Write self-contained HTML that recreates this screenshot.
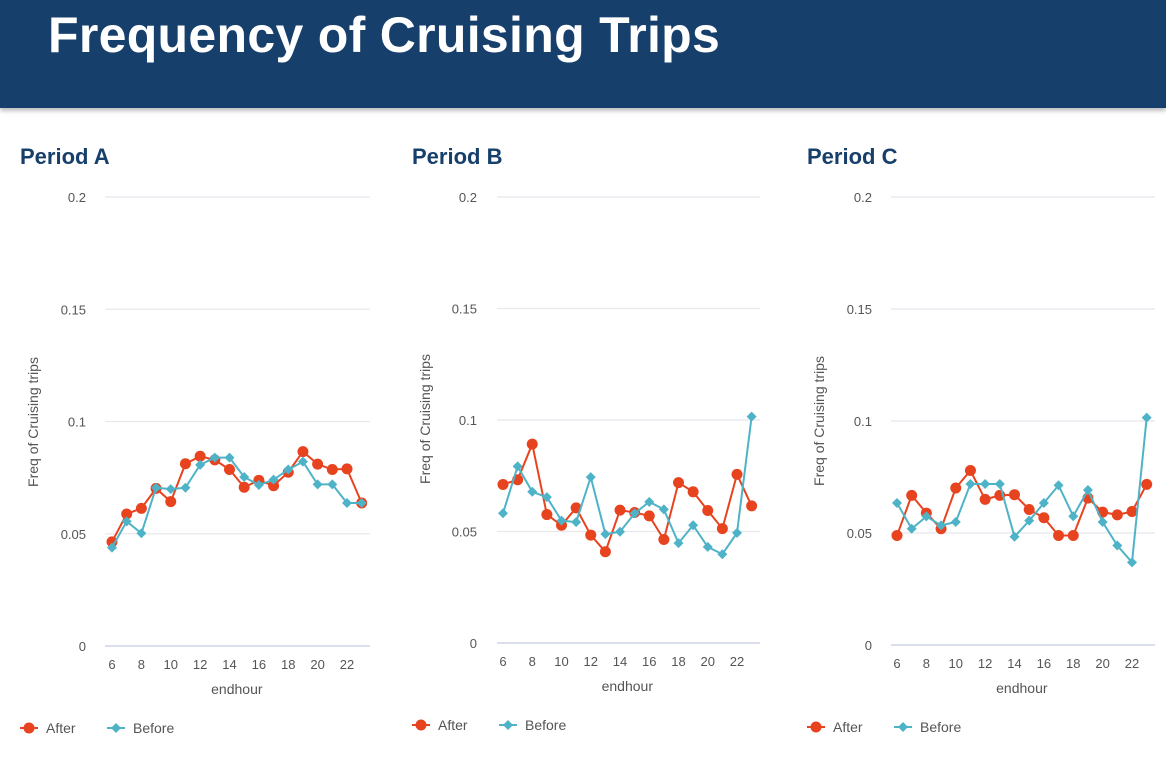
<!DOCTYPE html>
<html><head><meta charset="utf-8">
<style>
body{margin:0;width:1166px;height:760px;background:#fff;overflow:hidden;font-family:"Liberation Sans",sans-serif;}
#hdr{position:absolute;left:0;top:0;width:1166px;height:108px;background:#173f6b;box-shadow:0 3px 4px rgba(0,0,0,0.25);}
#hdr h1{margin:0;position:absolute;left:48px;top:6px;color:#fff;font-size:50px;font-weight:bold;letter-spacing:0.3px;}
svg{position:absolute;left:0;top:0;}
</style></head><body>
<div id="hdr"><h1>Frequency of Cruising Trips</h1></div>
<svg id="c" width="1166" height="760"></svg>
<script>
const hours=[6,7,8,9,10,11,12,13,14,15,16,17,18,19,20,21,22,23];
const xTicks=[6,8,10,12,14,16,18,20,22];
const yTicks=[0,0.05,0.1,0.15,0.2];
const yTickLabels=["0","0.05","0.1","0.15","0.2"];
const afterA=[0.0464,0.0588,0.0613,0.0702,0.0643,0.0812,0.0845,0.0829,0.0786,0.0707,0.0738,0.0714,0.0774,0.0866,0.081,0.0786,0.0789,0.0637];
const beforeA=[0.0438,0.0555,0.0502,0.0705,0.0699,0.0705,0.0807,0.0839,0.0839,0.0753,0.0717,0.0741,0.0786,0.0821,0.072,0.072,0.0637,0.0637];
const afterB=[0.0711,0.0732,0.0892,0.0576,0.0528,0.0606,0.0484,0.0409,0.0596,0.0585,0.057,0.0464,0.0719,0.0678,0.0594,0.0513,0.0756,0.0615];
const beforeB=[0.0582,0.0792,0.0678,0.0654,0.0549,0.0542,0.0744,0.0488,0.0499,0.0581,0.0633,0.0599,0.0448,0.0528,0.0431,0.0398,0.0494,0.1015];
const afterC=[0.0489,0.0668,0.0589,0.0519,0.0701,0.0779,0.065,0.0668,0.0671,0.0605,0.0568,0.0489,0.0489,0.0656,0.0593,0.0581,0.0596,0.0717];
const beforeC=[0.0634,0.0519,0.0574,0.0534,0.0549,0.0719,0.0719,0.0719,0.0483,0.0555,0.0634,0.0713,0.0575,0.0692,0.0549,0.0444,0.0369,0.1015];
const periods=["Period A","Period B","Period C"];

const NS="http://www.w3.org/2000/svg";
const svg=document.getElementById('c');
function mk(tag,attrs,parent){const e=document.createElementNS(NS,tag);for(const k in attrs)e.setAttribute(k,attrs[k]);(parent||svg).appendChild(e);return e;}
const panels=[
 {after:afterA,before:beforeA,gx0:105,gx1:370,x6:112,x22:347,y0:646,y2:197,tx:20,lab:86,yt:38},
 {after:afterB,before:beforeB,gx0:497,gx1:760,x6:503,x22:737,y0:643,y2:197,tx:412,lab:477,yt:430},
 {after:afterC,before:beforeC,gx0:891,gx1:1155,x6:897,x22:1132,y0:645,y2:197,tx:807,lab:872,yt:824}
];
panels.forEach((p,i)=>{
 const g=mk('g',{});
 
 
 const X=h=>p.x6+(h-6)*(p.x22-p.x6)/16;
 const Y=v=>p.y0-v*(p.y0-p.y2)/0.2;
 const t=mk('text',{x:p.tx,y:164,'font-size':22,'font-weight':'bold',fill:'#173f6b'},g);t.textContent=periods[i];
 
 yTicks.forEach((v,k)=>{
  const l=mk('line',{x1:p.gx0,x2:p.gx1,y1:Y(v),y2:Y(v),stroke:k==0?'#c5cbe0':'#e8e8ee','stroke-width':1.2},g);
  
  const tl=mk('text',{x:p.lab,y:Y(v)+5,'font-size':13,fill:'#555','text-anchor':'end'},g);tl.textContent=yTickLabels[k];
  
 });
 xTicks.forEach(h=>{
  const tl=mk('text',{x:X(h),y:p.y0+23,'font-size':13,fill:'#555','text-anchor':'middle'},g);tl.textContent=h;
  
 });
 const xt=mk('text',{x:(X(6)+X(23))/2,y:p.y0+48,'font-size':14,fill:'#555','text-anchor':'middle'},g);xt.textContent='endhour';
 
 const yt=mk('text',{x:p.yt,y:p.y0-224,'font-size':14,fill:'#555','text-anchor':'middle',transform:`rotate(-90 ${p.yt} ${p.y0-224})`},g);yt.textContent='Freq of Cruising trips';
 
 [[p.after,'#e8431f','after'],[p.before,'#4fb3c8','before']].forEach(([d,col,nm])=>{
  const pts=d.map((v,k)=>X(hours[k])+','+Y(v)).join(' ');
  const pl=mk('polyline',{points:pts,fill:'none',stroke:col,'stroke-width':2},g);
  
  d.forEach((v,k)=>{
   const cx=X(hours[k]),cy=Y(v);let m;
   if(nm=='after')m=mk('circle',{cx:cx,cy:cy,r:5.5,fill:col},g);
   else m=mk('path',{d:`M${cx} ${cy-5}L${cx+5} ${cy}L${cx} ${cy+5}L${cx-5} ${cy}Z`,fill:col},g);
   
  });
 });
 const ly=p.y0+82;const lx=p.tx;
 const lg=mk('g',{},g);
 const e1=mk('g',{},lg);
 mk('line',{x1:lx,x2:lx+18,y1:ly,y2:ly,stroke:'#e8431f','stroke-width':2},e1);
 mk('circle',{cx:lx+9,cy:ly,r:5.5,fill:'#e8431f'},e1);
 const a=mk('text',{x:lx+26,y:ly+5,'font-size':14,fill:'#555'},e1);a.textContent='After';
 const e2=mk('g',{},lg);
 const bx=lx+87;
 mk('line',{x1:bx,x2:bx+18,y1:ly,y2:ly,stroke:'#4fb3c8','stroke-width':2},e2);
 mk('path',{d:`M${bx+9} ${ly-5}L${bx+14} ${ly}L${bx+9} ${ly+5}L${bx+4} ${ly}Z`,fill:'#4fb3c8'},e2);
 const b=mk('text',{x:bx+26,y:ly+5,'font-size':14,fill:'#555'},e2);b.textContent='Before';
});
</script>
</body></html>
